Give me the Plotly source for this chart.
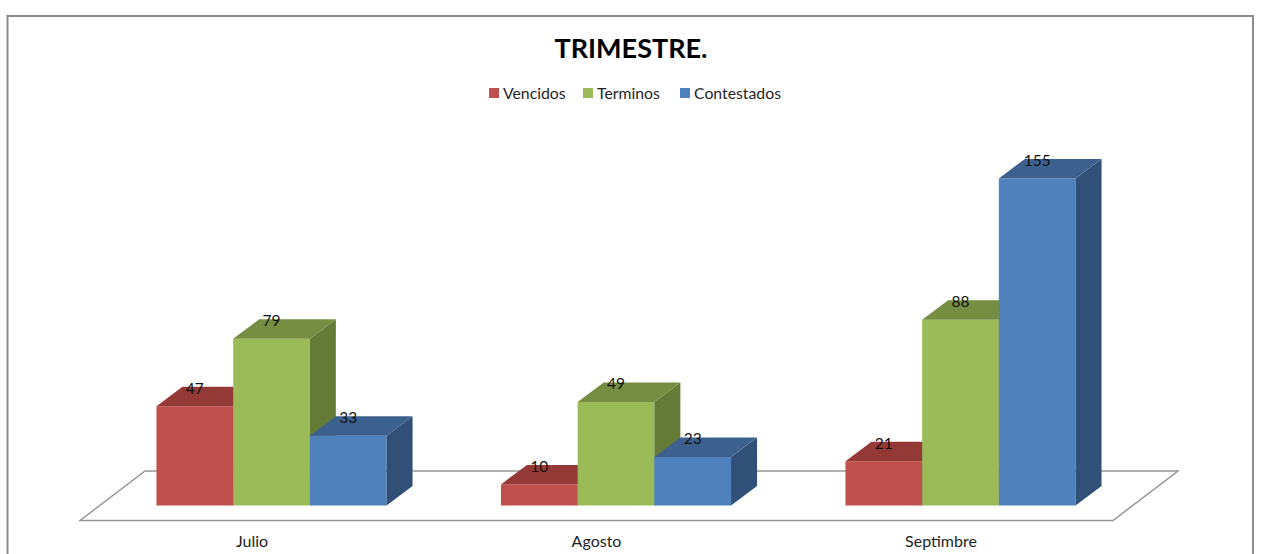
import plotly.graph_objects as go

categories = ["Julio", "Agosto", "Septimbre"]
vencidos = [47, 10, 21]
terminos = [79, 49, 88]
contestados = [33, 23, 155]
series_names = ["Vencidos", "Terminos", "Contestados"]
series_values = [vencidos, terminos, contestados]
front_colors = ["#C0504D", "#9BBB59", "#4F81BD"]
top_colors = ["#953937", "#768E42", "#3D618F"]
side_colors = ["#7F2F2D", "#657C38", "#305078"]

W, H = 1261, 554
PLOT_BOTTOM = 530
PX_PER_GROUP = 344.5
PX_PER_UNIT = 2.11
X0_PX = 271.5
Y0_PX = 505.5
BAR_W = 76.7 / PX_PER_GROUP
DX = 26 / PX_PER_GROUP
DY = 19.5 / PX_PER_UNIT
LABEL_DY = 16.5 / PX_PER_UNIT
TICK_SHIFT = 19.5 / PX_PER_GROUP
LEGEND_SWATCH_PX = [489, 583, 680]
LEGEND_Y_PX = 93


def xval(px):
    return (px - X0_PX) / PX_PER_GROUP


def yval(py):
    return (Y0_PX - py) / PX_PER_UNIT


def ypaper(py):
    return 1 - py / PLOT_BOTTOM


xrange_ = [xval(0), xval(W)]
yrange_ = [yval(PLOT_BOTTOM), yval(0)]

fig = go.Figure()
label_x, label_y, label_t = [], [], []

for s, (name, vals) in enumerate(zip(series_names, series_values)):
    suffix = "" if s == 0 else str(s + 1)
    xa, ya = "x" + suffix, "y" + suffix
    xpos = [i + (s - 1) * BAR_W for i in range(len(categories))]
    fig.add_trace(go.Bar(
        x=xpos, y=vals, width=BAR_W, name=name, xaxis=xa, yaxis=ya,
        marker=dict(color=front_colors[s], line=dict(width=0)),
        hoverinfo="skip", offsetgroup=str(s), showlegend=False,
    ))
    for x, v in zip(xpos, vals):
        l, r = x - BAR_W / 2, x + BAR_W / 2
        fig.add_trace(go.Scatter(
            x=[r, r + DX, r + DX, r, r], y=[0, DY, v + DY, v, 0],
            fill="toself", fillcolor=side_colors[s], mode="none",
            showlegend=False, hoverinfo="skip", xaxis=xa, yaxis=ya,
        ))
        fig.add_trace(go.Scatter(
            x=[l, r, r + DX, l + DX, l], y=[v, v, v + DY, v + DY, v],
            fill="toself", fillcolor=top_colors[s], mode="none",
            showlegend=False, hoverinfo="skip", xaxis=xa, yaxis=ya,
        ))
        label_x.append(x)
        label_y.append(v + LABEL_DY)
        label_t.append(str(v))

fig.add_trace(go.Scatter(
    x=label_x, y=label_y, text=label_t, mode="text", textposition="middle center",
    textfont=dict(family="Lato", size=15.5, color="#111111"),
    showlegend=False, hoverinfo="skip", xaxis="x3", yaxis="y3",
))

GRAY = "#969696"
shapes = [
    dict(type="path", xref="x", yref="y", layer="below",
         path=f"M {xval(80)} {yval(520.5)} L {xval(145)} {yval(471)} "
              f"L {xval(1178)} {yval(471)} L {xval(1113)} {yval(520.5)} Z",
         fillcolor="white", line=dict(color=GRAY, width=1.5)),
    dict(type="path", xref="paper", yref="paper", layer="below",
         path=f"M {7.5/W} -0.05 L {7.5/W} {ypaper(16)} L {1253/W} {ypaper(16)} L {1253/W} -0.05",
         line=dict(color="#8C8C8C", width=2)),
]

annotations = []
for px, name, color in zip(LEGEND_SWATCH_PX, series_names, front_colors):
    shapes.append(dict(type="rect", xref="paper", yref="paper",
                       x0=px / W, x1=(px + 10) / W,
                       y0=ypaper(LEGEND_Y_PX + 5), y1=ypaper(LEGEND_Y_PX - 5),
                       fillcolor=color, line=dict(width=0)))
    annotations.append(dict(text=name, xref="paper", yref="paper",
                            x=(px + 13) / W, xanchor="left",
                            y=ypaper(LEGEND_Y_PX), yanchor="middle",
                            showarrow=False, xshift=-1,
                            font=dict(family="Lato", size=15.8, color="#1F1F1F")))

hidden = dict(showgrid=False, zeroline=False, showline=False, showticklabels=False, ticks="")
fig.update_layout(
    width=W, height=H,
    margin=dict(l=0, r=0, t=0, b=H - PLOT_BOTTOM, pad=0),
    paper_bgcolor="white", plot_bgcolor="rgba(0,0,0,0)",
    barmode="overlay", shapes=shapes, annotations=annotations, showlegend=False,
    title=dict(text="<b>TRIMESTRE.</b>", x=631 / W, xanchor="center", y=1 - 49 / H, yanchor="middle",
               font=dict(family="Lato", size=27, color="#000000")),
    xaxis=dict(range=xrange_, tickmode="array",
               tickvals=[i - TICK_SHIFT for i in range(len(categories))], ticktext=categories,
               showgrid=False, zeroline=False, showline=False, ticks="", ticklen=0,
               tickfont=dict(family="Lato", size=16, color="#1F1F1F")),
    yaxis=dict(range=yrange_, **hidden),
    xaxis2=dict(range=xrange_, overlaying="x", **hidden),
    yaxis2=dict(range=yrange_, overlaying="y", **hidden),
    xaxis3=dict(range=xrange_, overlaying="x", **hidden),
    yaxis3=dict(range=yrange_, overlaying="y", **hidden),
)

fig.write_html("out.html", config={"displayModeBar": False},
               post_script="document.body.style.margin='0';document.body.style.overflow='hidden';")
